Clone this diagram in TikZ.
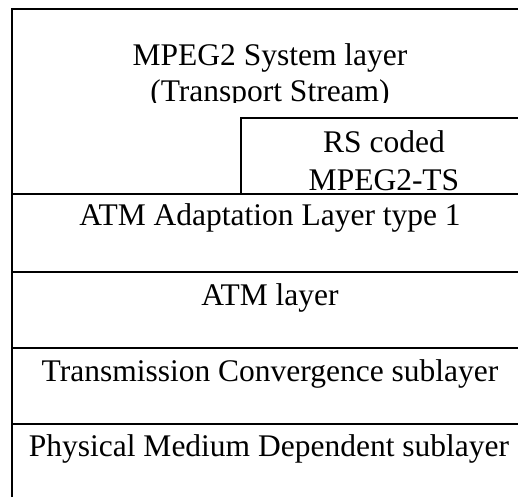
\documentclass[tikz,border=0pt]{standalone}
\usepackage{fontspec}
\setmainfont{Liberation Serif}
\begin{document}
\begin{tikzpicture}[x=1pt,y=-1pt,
  rule/.style={line width=2pt,black},
  lbl/.style={anchor=base,inner sep=0pt,font=\fontsize{31.5}{36}\selectfont}]
\useasboundingbox (0,0) rectangle (518,497);
\clip (0,0) rectangle (518,497);
% text of the top layer, clipped at its lower edge
\begin{scope}
  \clip (12,9) rectangle (530,103);
  \node[lbl] (mpeg) at (270,66) {MPEG2 System layer};
  \node[lbl] (ts) at (270,102) {(Transport Stream)};
\end{scope}
\begin{scope}
  \clip (241,118) rectangle (530,194);
  \node[lbl] (rs) at (384,152) {RS coded};
  \node[lbl] (rsts) at (384,190) {MPEG2-TS};
\end{scope}
\node[lbl] (aal) at (270,225) {ATM Adaptation Layer type 1};
\node[lbl] (atm) at (270,305) {ATM layer};
\node[lbl] (tc) at (270,381) {Transmission Convergence sublayer};
\node[lbl] (pmd) at (269,456) {Physical Medium Dependent sublayer};
% frame lines
\draw[rule] (12,497) -- (12,9) -- (530,9);
\draw[rule] (241,194) -- (241,118) -- (530,118);
\draw[rule] (12,194) -- (530,194);
\draw[rule] (12,272) -- (530,272);
\draw[rule] (12,348) -- (530,348);
\draw[rule] (12,424) -- (530,424);
\end{tikzpicture}
\end{document}
